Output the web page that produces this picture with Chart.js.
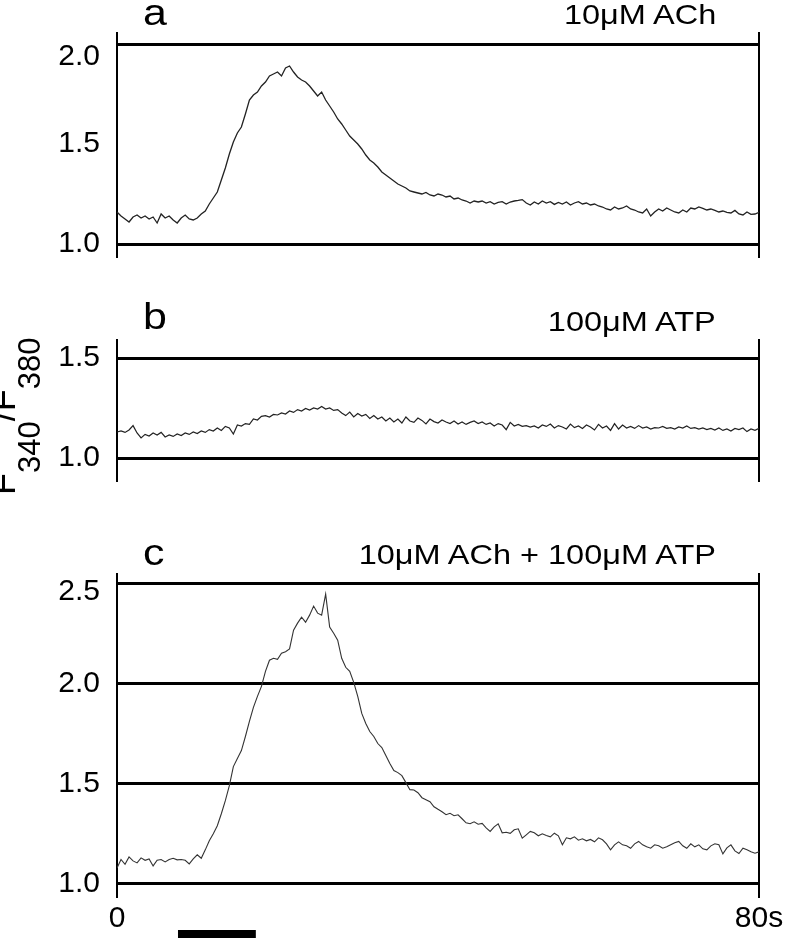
<!DOCTYPE html>
<html>
<head>
<meta charset="utf-8">
<script src="https://cdn.jsdelivr.net/npm/chart.js@4.4.1/dist/chart.umd.min.js"></script>
<style>
  html, body { margin: 0; padding: 0; background: #fff; }
  #page { position: relative; width: 788px; height: 939px; overflow: hidden; font-family: "Liberation Sans", Arial, sans-serif; color: #000; }
  canvas { position: absolute; left: 0; }
  .lbl { position: absolute; line-height: 1; white-space: nowrap; }
  .panel { font-size: 37px; transform: scaleX(1.16); transform-origin: left top; }
  .cond { font-size: 28px; right: 72px; transform: scaleX(1.16); transform-origin: right top; }
  #ytitle { left: -15px; top: 495px; font-size: 36px; transform-origin: 0 0; transform: rotate(-90deg); }
  #ytitle .sub { font-size: 31px; position: relative; top: 25px; }
</style>
</head>
<body>
<div id="page">
  <canvas id="chartA" width="788" height="326" style="top:-18px"></canvas>
  <canvas id="chartB" width="788" height="243" style="top:289px"></canvas>
  <canvas id="chartC" width="788" height="416" style="top:523px"></canvas>

  <div class="lbl panel" style="left:143px; top:-6px">a</div>
  <div class="lbl cond" style="top:1px">10μM ACh</div>
  <div class="lbl panel" style="left:143px; top:298px">b</div>
  <div class="lbl cond" style="top:308px">100μM ATP</div>
  <div class="lbl panel" style="left:143px; top:534px">c</div>
  <div class="lbl cond" style="top:541px">10μM ACh + 100μM ATP</div>
  <div class="lbl" id="ytitle">F<span class="sub">340</span>/F<span class="sub">380</span></div>
</div>
<script>
const FONT = '"Liberation Sans", Arial, sans-serif';

// sample times (s)
const times = [
  0, 0.5, 1, 1.5, 2, 2.5, 3, 3.5, 4, 4.5,
  5, 5.5, 6, 6.5, 7, 7.5, 8, 8.5, 9, 9.5,
  10, 10.5, 11, 11.5, 12, 12.5, 13, 13.5, 14, 14.5,
  15, 15.5, 16, 16.5, 17, 17.5, 18, 18.5, 19, 19.5,
  20, 20.5, 21, 21.5, 22, 22.5, 23, 23.5, 24, 24.5,
  25, 25.5, 26, 26.5, 27, 27.5, 28, 28.5, 29, 29.5,
  30, 30.5, 31, 31.5, 32, 32.5, 33, 33.5, 34, 34.5,
  35, 35.5, 36, 36.5, 37, 37.5, 38, 38.5, 39, 39.5,
  40, 40.5, 41, 41.5, 42, 42.5, 43, 43.5, 44, 44.5,
  45, 45.5, 46, 46.5, 47, 47.5, 48, 48.5, 49, 49.5,
  50, 50.5, 51, 51.5, 52, 52.5, 53, 53.5, 54, 54.5,
  55, 55.5, 56, 56.5, 57, 57.5, 58, 58.5, 59, 59.5,
  60, 60.5, 61, 61.5, 62, 62.5, 63, 63.5, 64, 64.5,
  65, 65.5, 66, 66.5, 67, 67.5, 68, 68.5, 69, 69.5,
  70, 70.5, 71, 71.5, 72, 72.5, 73, 73.5, 74, 74.5,
  75, 75.5, 76, 76.5, 77, 77.5, 78, 78.5, 79, 79.5,
  80
];

// a: 10uM ACh
const ratioACh = [
  1.160, 1.140, 1.125, 1.110, 1.135, 1.145, 1.130, 1.140, 1.125, 1.135,
  1.105, 1.150, 1.130, 1.140, 1.120, 1.105, 1.130, 1.145, 1.125, 1.120,
  1.130, 1.150, 1.165, 1.200, 1.230, 1.260, 1.320, 1.380, 1.450, 1.510,
  1.555, 1.585, 1.650, 1.720, 1.745, 1.760, 1.790, 1.810, 1.840, 1.850,
  1.860, 1.840, 1.880, 1.890, 1.860, 1.835, 1.820, 1.810, 1.790, 1.765,
  1.740, 1.760, 1.720, 1.690, 1.660, 1.625, 1.600, 1.570, 1.540, 1.520,
  1.500, 1.475, 1.445, 1.420, 1.405, 1.385, 1.360, 1.345, 1.330, 1.315,
  1.300, 1.290, 1.280, 1.265, 1.260, 1.255, 1.250, 1.258, 1.245, 1.240,
  1.250, 1.245, 1.235, 1.240, 1.225, 1.230, 1.220, 1.215, 1.205, 1.215,
  1.210, 1.215, 1.205, 1.212, 1.200, 1.208, 1.212, 1.200, 1.210, 1.215,
  1.218, 1.222, 1.205, 1.195, 1.210, 1.200, 1.215, 1.205, 1.212, 1.198,
  1.208, 1.200, 1.210, 1.195, 1.205, 1.212, 1.200, 1.205, 1.195, 1.200,
  1.190, 1.185, 1.175, 1.170, 1.185, 1.175, 1.180, 1.190, 1.175, 1.170,
  1.160, 1.155, 1.175, 1.140, 1.160, 1.175, 1.165, 1.180, 1.170, 1.160,
  1.155, 1.170, 1.160, 1.180, 1.175, 1.185, 1.178, 1.170, 1.175, 1.168,
  1.160, 1.165, 1.158, 1.155, 1.168, 1.150, 1.145, 1.160, 1.148, 1.150,
  1.158
];

// b: 100uM ATP
const ratioATP = [
  1.130, 1.135, 1.128, 1.140, 1.162, 1.125, 1.100, 1.118, 1.110, 1.125,
  1.115, 1.128, 1.105, 1.115, 1.108, 1.120, 1.112, 1.125, 1.118, 1.130,
  1.122, 1.135, 1.128, 1.142, 1.135, 1.150, 1.138, 1.158, 1.150, 1.120,
  1.165, 1.160, 1.172, 1.168, 1.195, 1.190, 1.208, 1.212, 1.205, 1.218,
  1.215, 1.225, 1.220, 1.235, 1.228, 1.242, 1.235, 1.248, 1.240, 1.250,
  1.245, 1.258, 1.245, 1.250, 1.238, 1.242, 1.225, 1.212, 1.230, 1.205,
  1.222, 1.210, 1.218, 1.198, 1.212, 1.195, 1.205, 1.185, 1.200, 1.180,
  1.195, 1.175, 1.205, 1.185, 1.178, 1.200, 1.188, 1.170, 1.195, 1.182,
  1.175, 1.190, 1.180, 1.172, 1.185, 1.170, 1.180, 1.168, 1.178, 1.185,
  1.172, 1.180, 1.168, 1.175, 1.160, 1.172, 1.165, 1.142, 1.178, 1.160,
  1.168, 1.158, 1.162, 1.155, 1.160, 1.150, 1.165, 1.158, 1.170, 1.150,
  1.162, 1.155, 1.145, 1.170, 1.152, 1.160, 1.148, 1.165, 1.155, 1.140,
  1.168, 1.150, 1.160, 1.138, 1.172, 1.145, 1.165, 1.150, 1.158, 1.148,
  1.162, 1.150, 1.155, 1.145, 1.152, 1.150, 1.158, 1.148, 1.152, 1.145,
  1.155, 1.150, 1.160, 1.148, 1.152, 1.145, 1.150, 1.142, 1.148, 1.140,
  1.150, 1.138, 1.145, 1.135, 1.148, 1.142, 1.150, 1.132, 1.145, 1.138,
  1.148
];

// c: 10uM ACh + 100uM ATP
const ratioBoth = [
  1.080, 1.122, 1.098, 1.135, 1.115, 1.105, 1.130, 1.118, 1.125, 1.090,
  1.118, 1.122, 1.110, 1.122, 1.128, 1.120, 1.122, 1.118, 1.100, 1.125,
  1.145, 1.128, 1.170, 1.215, 1.250, 1.290, 1.350, 1.415, 1.490, 1.585,
  1.625, 1.665, 1.735, 1.810, 1.880, 1.935, 1.985, 2.060, 2.115, 2.125,
  2.120, 2.150, 2.158, 2.172, 2.265, 2.300, 2.330, 2.305, 2.340, 2.385,
  2.350, 2.340, 2.445, 2.280, 2.250, 2.215, 2.125, 2.080, 2.060, 2.005,
  1.935, 1.850, 1.800, 1.760, 1.735, 1.700, 1.680, 1.640, 1.600, 1.565,
  1.555, 1.540, 1.505, 1.470, 1.468, 1.455, 1.430, 1.420, 1.410, 1.385,
  1.372, 1.360, 1.345, 1.352, 1.340, 1.345, 1.325, 1.305, 1.300, 1.310,
  1.298, 1.302, 1.280, 1.262, 1.285, 1.300, 1.255, 1.258, 1.252, 1.270,
  1.275, 1.228, 1.245, 1.262, 1.255, 1.240, 1.250, 1.242, 1.235, 1.253,
  1.240, 1.195, 1.230, 1.225, 1.235, 1.218, 1.225, 1.215, 1.222, 1.210,
  1.230, 1.220, 1.200, 1.170, 1.195, 1.210, 1.195, 1.190, 1.178, 1.200,
  1.212, 1.195, 1.185, 1.178, 1.195, 1.190, 1.178, 1.185, 1.195, 1.205,
  1.212, 1.190, 1.178, 1.200, 1.185, 1.195, 1.175, 1.170, 1.190, 1.200,
  1.195, 1.150, 1.180, 1.195, 1.165, 1.152, 1.178, 1.170, 1.160, 1.153,
  1.160
];

// axis ticks and reference lines
const ticksA = [1.0, 1.5, 2.0];
const linesA = [1.0, 2.0];
const ticksB = [1.0, 1.5];
const linesB = [1.0, 1.5];
const ticksC = [1.0, 1.5, 2.0, 2.5];
const linesC = [1.0, 1.5, 2.0, 2.5];
const timeTicks = [0, 80];
const timeLabels = ['0', '80s'];

// agonist application (s)
const stimulus = [7.6, 17.3];

const stimulusBar = {
    id: 'stimulusBar',
    afterDraw(chart) {
        const x = chart.scales.x;
        const ctx = chart.ctx;
        const x0 = x.getPixelForValue(stimulus[0]);
        const x1 = x.getPixelForValue(stimulus[1]);
        ctx.save();
        ctx.fillStyle = '#000';
        ctx.fillRect(x0, chart.chartArea.bottom + 32, x1 - x0, 8);
        ctx.restore();
    }
};

function makePanel(canvasId, values, cfg) {
    const topTick = cfg.ticks[cfg.ticks.length - 1];
    const shifted = v => cfg.topShift > 0 && v === topTick;

    return new Chart(document.getElementById(canvasId), {
        type: 'line',
        data: {
            datasets: [{
                data: times.map((t, i) => ({ x: t, y: values[i] })),
                borderColor: cfg.color,
                borderWidth: cfg.width,
                pointRadius: 0,
                tension: 0,
            }]
        },
        options: {
            responsive: false,
            animation: false,
            events: [],
            // generous padding so the tick labels never push the plot area in
            layout: { padding: { top: 50, right: 29, bottom: cfg.showTime ? 0 : 50, left: 0 } },
            plugins: {
                legend: { display: false },
                tooltip: { enabled: false }
            },
            scales: {
                x: {
                    type: 'linear',
                    min: 0,
                    max: 80,
                    afterBuildTicks: s => { s.ticks = timeTicks.map(v => ({ value: v })); },
                    afterFit: s => { s.height = cfg.showTime ? 41 : 0; },
                    border: { display: false },
                    grid: { color: '#000', lineWidth: 2, drawTicks: false },
                    ticks: {
                        display: !!cfg.showTime,
                        padding: 3,
                        maxRotation: 0,
                        autoSkip: false,
                        color: '#000',
                        font: { family: FONT, size: 30 },
                        callback: v => timeLabels[timeTicks.indexOf(v)]
                    }
                },
                y: {
                    min: cfg.min,
                    max: cfg.max,
                    afterBuildTicks: s => { s.ticks = cfg.ticks.map(v => ({ value: v })); },
                    afterFit: s => { s.width = 117; },
                    border: { display: false },
                    grid: {
                        drawTicks: false,
                        lineWidth: 3,
                        color: c => (c.tick && cfg.lines.includes(c.tick.value)) ? '#000' : 'rgba(0,0,0,0)'
                    },
                    ticks: {
                        padding: 17,
                        autoSkip: false,
                        color: '#000',
                        font: c => ({
                            family: FONT,
                            size: 30,
                            lineHeight: (c.tick && shifted(c.tick.value)) ? (cfg.topShift * 2) / 30 : 1.2
                        }),
                        callback: v => shifted(v) ? ['', v.toFixed(1)] : v.toFixed(1)
                    }
                }
            }
        },
        plugins: cfg.showTime ? [stimulusBar] : []
    });
}

makePanel('chartA', ratioACh, {
    min: 0.93, max: 2.06, ticks: ticksA, lines: linesA, topShift: 13,
    color: '#222', width: 1.3
});

makePanel('chartB', ratioATP, {
    min: 0.88, max: 1.595, ticks: ticksB, lines: linesB, topShift: 0,
    color: '#222', width: 1.2
});

makePanel('chartC', ratioBoth, {
    min: 0.93, max: 2.55, ticks: ticksC, lines: linesC, topShift: 9,
    color: '#333', width: 1.1, showTime: true
});
</script>
</body>
</html>
